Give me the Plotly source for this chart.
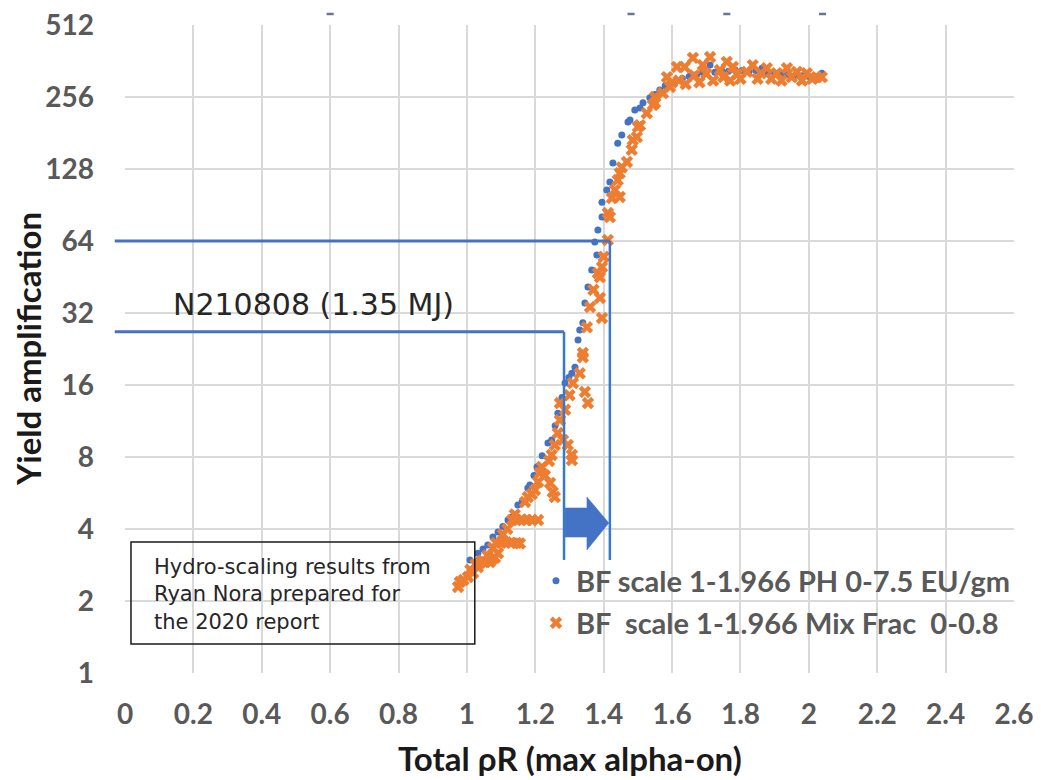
import math
import plotly.graph_objects as go

# ---------------- data ----------------
blue_name = "BF scale 1-1.966 PH 0-7.5 EU/gm"
orange_name = "BF\u00a0\u00a0scale 1-1.966 Mix Frac\u00a0\u00a00-0.8"

blue_x = [1.009, 1.032, 1.047, 1.061, 1.076, 1.091, 1.105, 1.120, 1.132, 1.149,
          1.161, 1.178, 1.184, 1.196, 1.205, 1.220, 1.237, 1.248, 1.258, 1.266,
          1.278, 1.287, 1.298, 1.307, 1.316, 1.325, 1.330, 1.339, 1.345, 1.354,
          1.365, 1.374, 1.380, 1.383, 1.395, 1.395, 1.409, 1.418, 1.427, 1.441,
          1.453, 1.471, 1.477, 1.491, 1.506, 1.515, 1.535, 1.550, 1.564, 1.580,
          1.595, 1.612, 1.630, 1.650, 1.672, 1.690, 1.711, 1.725, 1.745, 1.765,
          1.785, 1.805, 1.825, 1.845, 1.863, 1.880, 1.900, 1.920, 1.940, 1.960,
          1.980, 2.000, 2.020, 2.038]
blue_y = [2.97, 3.17, 3.30, 3.43, 3.70, 3.89, 4.10, 4.36, 4.49, 5.04,
          5.19, 5.93, 6.11, 6.70, 7.27, 8.10, 9.15, 9.42, 10.8, 12.2,
          14.2, 16.3, 17.2, 17.9, 19.0, 24.7, 27.2, 29.1, 35.2, 41.1,
          48.4, 63.4, 55.9, 71.2, 80.6, 93.0, 104.6, 113, 135.6, 164,
          177.6, 201, 205, 226, 230, 242, 254, 262, 274, 285,
          292, 300, 306, 312, 318, 324, 348, 325, 330, 328,
          332, 330, 327, 330, 338, 325, 322, 320, 318, 316,
          314, 312, 310, 322]

orange_x = [0.974, 0.979, 0.990, 1.003, 1.010, 1.018, 1.025, 1.032, 1.038, 1.045,
            1.053, 1.060, 1.067, 1.075, 1.082, 1.091, 1.076, 1.085, 1.100, 1.115,
            1.130, 1.145, 1.155, 1.105, 1.118, 1.132, 1.145, 1.160, 1.175, 1.190,
            1.208, 1.140, 1.170, 1.178, 1.190, 1.199, 1.208, 1.213, 1.219, 1.228,
            1.243, 1.251, 1.257, 1.240, 1.248, 1.257, 1.266, 1.272, 1.281, 1.295,
            1.307, 1.307, 1.272, 1.287, 1.300, 1.310, 1.330, 1.339, 1.345, 1.354,
            1.339, 1.351, 1.360, 1.389, 1.395, 1.370, 1.383, 1.395, 1.389, 1.400,
            1.412, 1.412, 1.418, 1.424, 1.433, 1.441, 1.447, 1.447, 1.453, 1.468,
            1.482, 1.485, 1.497, 1.500, 1.506, 1.526, 1.544, 1.550, 1.550, 1.573,
            1.585, 1.594, 1.600, 1.614, 1.620, 1.637, 1.640, 1.661, 1.665, 1.680,
            1.690, 1.700, 1.711, 1.720, 1.740, 1.750, 1.760, 1.770, 1.778, 1.790,
            1.800, 1.819, 1.836, 1.850, 1.860, 1.877, 1.890, 1.906, 1.920, 1.936,
            1.950, 1.965, 1.980, 1.994, 2.010, 2.023, 2.038]
orange_y = [2.29, 2.40, 2.45, 2.52, 2.70, 2.62, 2.85, 2.77, 2.88, 2.95,
            2.91, 3.10, 2.91, 3.00, 3.03, 3.17, 3.33, 3.50, 3.50, 3.52,
            3.50, 3.50, 3.48, 3.80, 4.00, 4.36, 4.36, 4.38, 4.36, 4.36,
            4.36, 4.60, 5.19, 5.44, 5.60, 5.82, 6.29, 6.86, 7.27, 6.70,
            6.23, 5.71, 5.44, 7.70, 8.16, 8.98, 10.08, 11.4, 9.42, 8.98,
            8.16, 7.77, 13.45, 12.6, 14.5, 16.3, 17.9, 20.9, 14.96, 13.45,
            21.8, 27.9, 33.9, 37.0, 30.5, 40.0, 47.0, 49.8, 45.2, 55.0,
            64.6, 83.8, 80.6, 96.8, 104.6, 115, 97.8, 123, 130, 137,
            154, 169, 174, 192, 195, 219, 237, 242, 256, 266,
            310, 282, 295, 342, 300, 342, 290, 373, 315, 295,
            348, 320, 376, 300, 332, 310, 359, 300, 342, 318,
            305, 326, 348, 305, 322, 338, 305, 322, 300, 338,
            310, 326, 300, 322, 305, 310, 310]

# stray marks above the plot area in the reference (x in data units)
stray_x = [0.60, 1.48, 1.76, 2.04]

x_ticks = [0, 0.2, 0.4, 0.6, 0.8, 1, 1.2, 1.4, 1.6, 1.8, 2, 2.2, 2.4, 2.6]
x_tick_text = ["0", "0.2", "0.4", "0.6", "0.8", "1", "1.2", "1.4", "1.6", "1.8", "2", "2.2", "2.4", "2.6"]
y_ticks = [1, 2, 4, 8, 16, 32, 64, 128, 256, 512]
y_tick_text = [str(v) for v in y_ticks]

# reference guides (data values)
guide_hi_y = 64
guide_hi_x = 1.418
guide_lo_y = 26.7
guide_lo_x = 1.284
guide_bottom_y = 2.97
guide_start_x = -0.03

# block arrow (data values)
arrow_x = [1.287, 1.351, 1.351, 1.415, 1.351, 1.351, 1.287, 1.287]
arrow_y = [4.90, 4.90, 5.44, 4.24, 3.27, 3.70, 3.70, 4.90]

# note box (data values)
box_x = [0.0175, 1.023]
box_y = [1.322, 3.53]

X_MAX = 2.6
L = math.log10

BLUE = "#4472C4"
ORANGE = "#ED7D31"
TICK = "#595959"

fig = go.Figure()

fig.add_trace(go.Scatter(
    x=blue_x, y=blue_y, mode="markers", name=blue_name,
    marker=dict(symbol="circle", size=7, color=BLUE),
    legend="legend",
))
fig.add_trace(go.Scatter(
    x=orange_x, y=orange_y, mode="markers", name=orange_name,
    marker=dict(symbol="x", size=11, color=ORANGE),
    legend="legend2",
))
# vertical guide lines
fig.add_trace(go.Scatter(
    x=[guide_hi_x, guide_hi_x], y=[guide_hi_y, guide_bottom_y], mode="lines",
    line=dict(color="#3579CF", width=2.5), showlegend=False, hoverinfo="skip",
))
fig.add_trace(go.Scatter(
    x=[guide_lo_x, guide_lo_x], y=[guide_lo_y, guide_bottom_y], mode="lines",
    line=dict(color="#3579CF", width=2.5), showlegend=False, hoverinfo="skip",
))
# arrow
fig.add_trace(go.Scatter(
    x=arrow_x, y=arrow_y, mode="lines", fill="toself", fillcolor=BLUE,
    line=dict(color=BLUE, width=0.5), showlegend=False, hoverinfo="skip",
))

# horizontal guides (extend slightly left of the plot)
for gy, gx in [(guide_hi_y, guide_hi_x), (guide_lo_y, guide_lo_x)]:
    fig.add_shape(type="line", xref="paper", yref="y",
                  x0=guide_start_x / X_MAX, x1=gx / X_MAX,
                  y0=gy, y1=gy,
                  line=dict(color=BLUE, width=3))

# stray dashes above the plot
for sx in stray_x:
    fig.add_shape(type="line", xref="paper", yref="paper",
                  x0=sx / X_MAX - 0.004, x1=sx / X_MAX + 0.004, y0=1.017, y1=1.017,
                  line=dict(color="#6a7590", width=2.5))

# note box
fig.add_shape(type="rect", xref="x", yref="y",
              x0=box_x[0], x1=box_x[1], y0=box_y[0], y1=box_y[1],
              line=dict(color="#1a1a1a", width=1.5), fillcolor="rgba(255,255,255,0)")

fig.add_annotation(x=0.079, y=L(2.12), xref="x", yref="y", xanchor="left", yanchor="middle",
                   text="Hydro-scaling results from<br>Ryan Nora prepared for<br>the 2020 report",
                   align="left", showarrow=False,
                   font=dict(family="DejaVu Sans", size=21, color="#262626"))
fig.add_annotation(x=0.135, y=L(34.6), xref="x", yref="y", xanchor="left", yanchor="middle",
                   text="N210808 (1.35 MJ)", showarrow=False,
                   font=dict(family="DejaVu Sans", size=30, color="#262626"))

# axis titles
fig.add_annotation(x=-0.109, y=0.5, xref="paper", yref="paper", xanchor="center", yanchor="middle",
                   text="Yield amplification", textangle=-90, showarrow=False,
                   font=dict(family="Lato", size=33, color="#1a1a1a", weight="bold"))
fig.add_annotation(x=0.5, y=-0.131, xref="paper", yref="paper", xanchor="center", yanchor="middle",
                   text="Total ρR (max alpha-on)", showarrow=False,
                   font=dict(family="Lato", size=33, color="#1a1a1a", weight="bold"))

fig.update_layout(
    width=1041, height=780,
    margin=dict(l=125, r=27, t=25, b=107),
    paper_bgcolor="white", plot_bgcolor="white",
    font=dict(family="Lato", color=TICK),
    legend=dict(x=0.4623, y=0.142, xanchor="left", yanchor="middle",
                bgcolor="rgba(0,0,0,0)",
                font=dict(family="Lato", size=29, color=TICK, weight="bold")),
    legend2=dict(x=0.4623, y=0.0772, xanchor="left", yanchor="middle",
                 bgcolor="rgba(0,0,0,0)",
                 font=dict(family="Lato", size=29, color=TICK, weight="bold")),
    xaxis=dict(range=[0, X_MAX], tickvals=x_ticks, ticktext=x_tick_text,
               showgrid=True, gridcolor="#d9d9d9", gridwidth=2, automargin=False,
               zeroline=False, showline=False, ticks="", ticklabelstandoff=22,
               tickfont=dict(family="Lato", size=28, color=TICK, weight="bold")),
    yaxis=dict(type="log", range=[0, L(512)], tickvals=y_ticks, ticktext=y_tick_text,
               showgrid=True, gridcolor="#d9d9d9", gridwidth=2, automargin=False,
               zeroline=False, showline=False, ticks="", ticklabelstandoff=30,
               tickfont=dict(family="Lato", size=28, color=TICK, weight="bold")),
)

fig.write_html("out.html", post_script="document.body.style.margin='0';",
               config={"displayModeBar": False})
